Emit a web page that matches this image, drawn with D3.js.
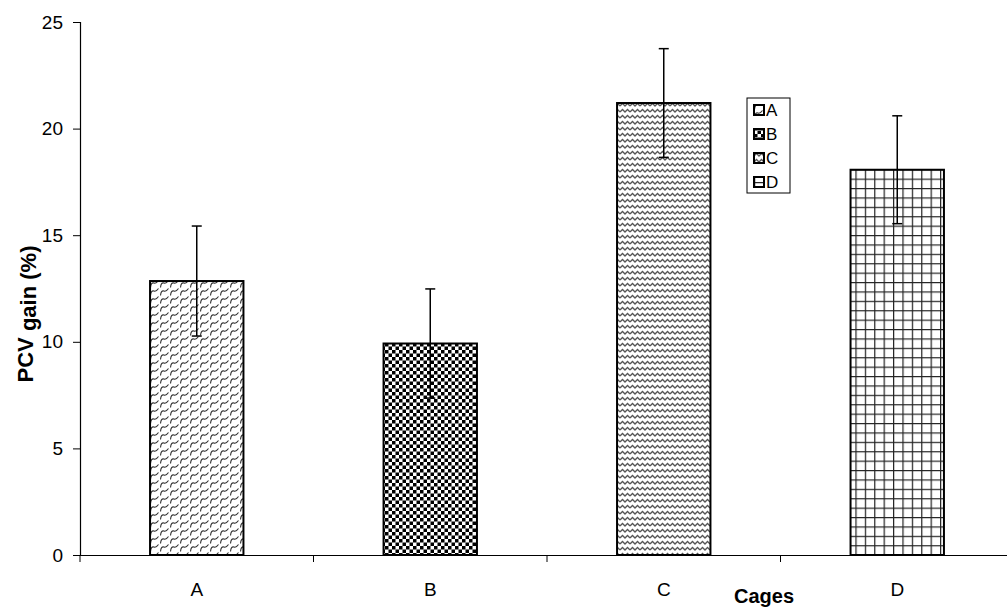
<!DOCTYPE html>
<html lang="en">
<head>
<meta charset="UTF-8">
<title>PCV gain by cage</title>
<script src="https://d3js.org/d3.v7.min.js"></script>
<style>
    body { margin: 0; background: #fff; }
    svg { display: block; font-family: "Liberation Sans", Arial, sans-serif; }
</style>
</head>
<body>
<div id="chart"></div>
<script>
// data
const cages = ["A", "B", "C", "D"];
const pcvGain = [12.85, 9.92, 21.2, 18.07];
const errors = [2.58, 2.56, 2.55, 2.53];
const yTicks = [0, 5, 10, 15, 20, 25];

const width = 1007, height = 610;
const svg = d3.select("#chart").append("svg")
    .attr("width", width)
    .attr("height", height);

// fill patterns, one per cage
const defs = svg.append("defs");

// A: slanted scale / weave marks
const pA = defs.append("pattern").attr("id", "pat-A")
    .attr("patternUnits", "userSpaceOnUse").attr("width", 10).attr("height", 8);
pA.append("rect").attr("width", 10).attr("height", 8).attr("fill", "#fff");
pA.append("path")
    .attr("d", "M0.5,7.5 Q1,2 4,3 Q6,4 8.5,0.5")
    .attr("fill", "none").attr("stroke", "#333").attr("stroke-width", 1.1);

// B: checkerboard
const pB = defs.append("pattern").attr("id", "pat-B")
    .attr("patternUnits", "userSpaceOnUse").attr("width", 7).attr("height", 7);
pB.append("rect").attr("width", 7).attr("height", 7).attr("fill", "#fff");
pB.append("rect").attr("width", 3.5).attr("height", 3.5).attr("fill", "#000");
pB.append("rect").attr("x", 3.5).attr("y", 3.5).attr("width", 3.5).attr("height", 3.5).attr("fill", "#000");

// C: zigzag
const pC = defs.append("pattern").attr("id", "pat-C")
    .attr("patternUnits", "userSpaceOnUse").attr("width", 10).attr("height", 6);
pC.append("rect").attr("width", 10).attr("height", 6).attr("fill", "#fff");
pC.append("path")
    .attr("d", "M0,4 L2.5,1.5 L5,4 L7.5,1.5 L10,4")
    .attr("fill", "none").attr("stroke", "#555").attr("stroke-width", 1.3);

// D: grid
const pD = defs.append("pattern").attr("id", "pat-D")
    .attr("patternUnits", "userSpaceOnUse").attr("width", 9.4).attr("height", 9.4);
pD.append("rect").attr("width", 9.4).attr("height", 9.4).attr("fill", "#fff");
pD.append("path")
    .attr("d", "M0,0.6 H9.4 M0.6,0 V9.4")
    .attr("fill", "none").attr("stroke", "#222").attr("stroke-width", 1.2);

// scales
const x = d3.scaleBand()
    .domain(cages)
    .range([80, 1014])
    .paddingInner(0.6)
    .paddingOuter(0.3);

const y = d3.scaleLinear()
    .domain([0, 25])
    .range([555, 22]);

// bars
svg.selectAll(".bar")
    .data(cages)
    .enter().append("rect")
    .attr("class", "bar")
    .attr("x", d => x(d))
    .attr("y", (d, i) => y(pcvGain[i]))
    .attr("width", x.bandwidth())
    .attr("height", (d, i) => y(0) - y(pcvGain[i]))
    .attr("fill", d => `url(#pat-${d})`)
    .attr("stroke", "#000")
    .attr("stroke-width", 2);

// error bars
const err = svg.selectAll(".err")
    .data(cages)
    .enter().append("g")
    .attr("class", "err");

err.append("line")
    .attr("x1", d => x(d) + x.bandwidth() / 2)
    .attr("x2", d => x(d) + x.bandwidth() / 2)
    .attr("y1", (d, i) => y(pcvGain[i] + errors[i]))
    .attr("y2", (d, i) => y(pcvGain[i] - errors[i]))
    .attr("stroke", "#000").attr("stroke-width", 1.5);

err.selectAll(".cap")
    .data((d, i) => [
        {c: d, v: pcvGain[i] + errors[i]},
        {c: d, v: pcvGain[i] - errors[i]}
    ])
    .enter().append("line")
    .attr("x1", d => x(d.c) + x.bandwidth() / 2 - 5)
    .attr("x2", d => x(d.c) + x.bandwidth() / 2 + 5)
    .attr("y1", d => y(d.v))
    .attr("y2", d => y(d.v))
    .attr("stroke", "#000").attr("stroke-width", 1.5);

// axes
const xAxis = d3.axisBottom(x).tickSize(0).tickPadding(28);
const gx = svg.append("g")
    .attr("transform", `translate(0,${y(0)})`)
    .call(xAxis);
gx.select(".domain").attr("stroke", "#000").attr("stroke-width", 1.2);
gx.selectAll("text").style("font-size", "19px").attr("fill", "#000");

// category boundary ticks below the x axis
const step = x.step();
const bounds = cages.map((d, i) => x(d) - x.paddingInner() * step / 2);
svg.selectAll(".xsep")
    .data(bounds.concat([x.range()[1]]))
    .enter().append("line")
    .attr("x1", d => d).attr("x2", d => d)
    .attr("y1", y(0)).attr("y2", y(0) + 7)
    .attr("stroke", "#000").attr("stroke-width", 1);

const yAxis = d3.axisLeft(y).tickValues(yTicks).tickSize(7).tickPadding(10);
const gy = svg.append("g")
    .attr("transform", "translate(80,0)")
    .call(yAxis);
gy.select(".domain").attr("stroke", "#000").attr("stroke-width", 1.2);
gy.selectAll(".tick line").attr("stroke", "#000");
gy.selectAll("text").style("font-size", "19px").attr("fill", "#000");

// axis titles
const yTitle = svg.append("text")
    .attr("transform", "translate(33,314) rotate(-90)")
    .attr("text-anchor", "middle")
    .style("font-size", "22px")
    .style("font-weight", "bold");
yTitle.append("tspan").text("PCV");
yTitle.append("tspan").attr("dy", 3).text(" gain (%)");

svg.append("text")
    .attr("x", 764)
    .attr("y", 603)
    .attr("text-anchor", "middle")
    .style("font-size", "20px")
    .style("font-weight", "bold")
    .text("Cages");

// legend
const legend = svg.append("g").attr("transform", "translate(747,98)");
legend.append("rect")
    .attr("width", 43).attr("height", 95)
    .attr("fill", "#fff").attr("stroke", "#000").attr("stroke-width", 1);

const li = legend.selectAll(".li")
    .data(cages)
    .enter().append("g")
    .attr("transform", (d, i) => `translate(7,${12 + i * 24})`);

li.append("rect")
    .attr("y", -5).attr("width", 10).attr("height", 10)
    .attr("fill", d => `url(#pat-${d})`)
    .attr("stroke", "#000").attr("stroke-width", 2);

li.append("text")
    .attr("x", 12).attr("dy", "0.36em")
    .style("font-size", "17px")
    .text(d => d);
</script>
</body>
</html>
